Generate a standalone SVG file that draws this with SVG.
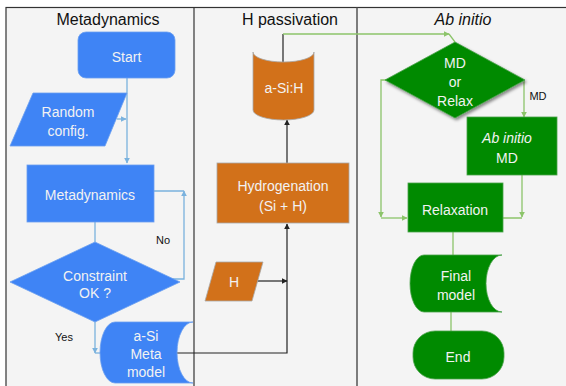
<svg xmlns="http://www.w3.org/2000/svg" width="566" height="386" viewBox="0 0 566 386">
<style>
.title{font-family:"Liberation Sans",Arial,sans-serif;font-size:16px;fill:#111;text-anchor:middle}
.t{font-family:"Liberation Sans",Arial,sans-serif;font-size:14px;fill:#f2f2f2;text-anchor:middle}
.lbl{font-family:"Liberation Sans",Arial,sans-serif;font-size:11px;fill:#111;text-anchor:middle}
.blue{fill:#3f84f5;stroke:#6b9ff0;stroke-width:0.8}
.orange{fill:#d2711a;stroke:#a8a8a8;stroke-width:0.8}
.green{fill:#008a00;stroke:#4aa24a;stroke-width:0.8}
.cb{fill:none;stroke:#7ab2de;stroke-width:1.3}
.ck{fill:none;stroke:#222;stroke-width:1.2}
.cg{fill:none;stroke:#8cc46a;stroke-width:1.3}
</style>
<defs>
<marker id="ab" viewBox="0 0 10 10" refX="9" refY="5" markerWidth="6" markerHeight="6" markerUnits="userSpaceOnUse" orient="auto"><path d="M0,0 L10,5 L0,10 Z" fill="#7ab2de"/></marker>
<marker id="ak" viewBox="0 0 10 10" refX="9" refY="5" markerWidth="6" markerHeight="6" markerUnits="userSpaceOnUse" orient="auto"><path d="M0,0 L10,5 L0,10 Z" fill="#222"/></marker>
<marker id="ag" viewBox="0 0 10 10" refX="9" refY="5" markerWidth="6" markerHeight="6" markerUnits="userSpaceOnUse" orient="auto"><path d="M0,0 L10,5 L0,10 Z" fill="#8cc46a"/></marker>
<filter id="sh" x="-10%" y="-10%" width="130%" height="130%"><feDropShadow dx="1.5" dy="2" stdDeviation="1.5" flood-color="#000" flood-opacity="0.45"/></filter>
</defs>
<rect width="566" height="386" fill="#ffffff"/>
<g id="frame">
<rect x="6" y="7.5" width="562" height="380" fill="#f4f4f4" stroke="#333" stroke-width="1.2"/>
<line x1="194" y1="7.5" x2="194" y2="386" stroke="#333" stroke-width="1.2"/>
<line x1="357" y1="7.5" x2="357" y2="386" stroke="#555" stroke-width="1.5"/>
<text class="title" x="108" y="25">Metadynamics</text>
<text class="title" x="290" y="25">H passivation</text>
<text class="title" x="463" y="25" font-style="italic">Ab initio</text>
</g>
<g id="connectors">
<path class="cb" d="M127,62 V163" marker-end="url(#ab)"/>
<path class="cb" d="M117,119 H126" marker-end="url(#ab)"/>
<path class="cb" d="M95,200 V242"/>
<path class="cb" d="M150,279 H184 V191" marker-end="url(#ab)"/>
<path class="cb" d="M140,191 H184"/>
<path class="cb" d="M95,322 V353" marker-end="url(#ab)"/>
<path class="cb" d="M95,353 H101"/>
<path class="ck" d="M177,353 H287 V224" marker-end="url(#ak)"/>
<path class="ck" d="M257,281 H287" marker-end="url(#ak)"/>
<path class="ck" d="M287,163 V120" marker-end="url(#ak)"/>
<path class="ck" d="M283,62 V34"/>
<path class="cg" d="M283,34 H449" marker-end="url(#ag)"/>
<path class="cg" d="M449,34 L455,42"/>
<path class="cg" d="M524,80 V117" marker-end="url(#ag)"/>
<path class="cg" d="M398,80 H381 V217" marker-end="url(#ag)"/>
<path class="cg" d="M381,218 H407" marker-end="url(#ag)"/>
<path class="cg" d="M522,167 V217" marker-end="url(#ag)"/>
<path class="cg" d="M522,218 H483"/>
<path class="cg" d="M453,232 V255"/>
<path class="cg" d="M451,312 V331"/>
</g>
<g id="start">
<rect class="blue" x="78" y="32" width="97" height="46" rx="8"/>
<text class="t" x="126.5" y="62" font-size="15">Start</text>
</g>
<g id="random-config">
<polygon class="blue" points="33,93 127,93 105,146 10,146"/>
<text class="t" x="68" y="117">Random</text>
<text class="t" x="68" y="136">config.</text>
</g>
<g id="metadynamics">
<rect class="blue" x="27" y="165" width="127" height="57"/>
<text class="t" x="90" y="200">Metadynamics</text>
</g>
<g id="constraint">
<polygon class="blue" points="95,242 180,282 95,322 10,282"/>
<text class="t" x="95" y="281" font-size="15">Constraint</text>
<text class="t" x="95" y="298" font-size="11">OK ?</text>
</g>
<text class="lbl" x="163" y="244">No</text>
<text class="lbl" x="64" y="341">Yes</text>
<g id="asi-meta">
<path class="blue" d="M115,322 H193 A16,30.5 0 0 0 193,383 H115 A15,30.5 0 0 1 115,322 Z"/>
<text class="t" x="146" y="341">a-Si</text>
<text class="t" x="146" y="359">Meta</text>
<text class="t" x="146" y="377">model</text>
</g>
<g id="h-input">
<polygon class="orange" points="216,262 263,262 252,301 205,301"/>
<text class="t" x="234" y="287" font-size="13">H</text>
</g>
<g id="hydrogenation">
<rect class="orange" x="217" y="163" width="132" height="60"/>
<text class="t" x="283" y="191">Hydrogenation</text>
<text class="t" x="283" y="211">(Si + H)</text>
</g>
<g id="asih">
<path class="orange" d="M253,52 A30.5,10 0 0 0 314,52 V110 A30.5,10 0 0 1 253,110 Z"/>
<text class="t" x="284" y="93">a-Si:H</text>
</g>
<g id="md-or-relax">
<polygon class="green" points="455,42 525,80 455,118 385,80" filter="url(#sh)"/>
<text class="t" x="455" y="68" font-size="15">MD</text>
<text class="t" x="455" y="87" font-size="15">or</text>
<text class="t" x="455" y="106" font-size="15">Relax</text>
</g>
<text class="lbl" x="538" y="100">MD</text>
<g id="abinitio-md">
<rect class="green" x="467" y="117" width="90" height="58"/>
<text class="t" x="507" y="143" font-style="italic">Ab initio</text>
<text class="t" x="507" y="163">MD</text>
</g>
<g id="relaxation">
<rect class="green" x="408" y="183" width="95" height="49"/>
<text class="t" x="455" y="215">Relaxation</text>
</g>
<g id="final-model">
<path class="green" d="M424,255 H502 A16,28.5 0 0 0 502,312 H424 A14,28.5 0 0 1 424,255 Z"/>
<text class="t" x="456" y="281">Final</text>
<text class="t" x="456" y="300">model</text>
</g>
<g id="end">
<rect class="green" x="413" y="331" width="91" height="48" rx="22"/>
<text class="t" x="458" y="362">End</text>
</g>
</svg>
